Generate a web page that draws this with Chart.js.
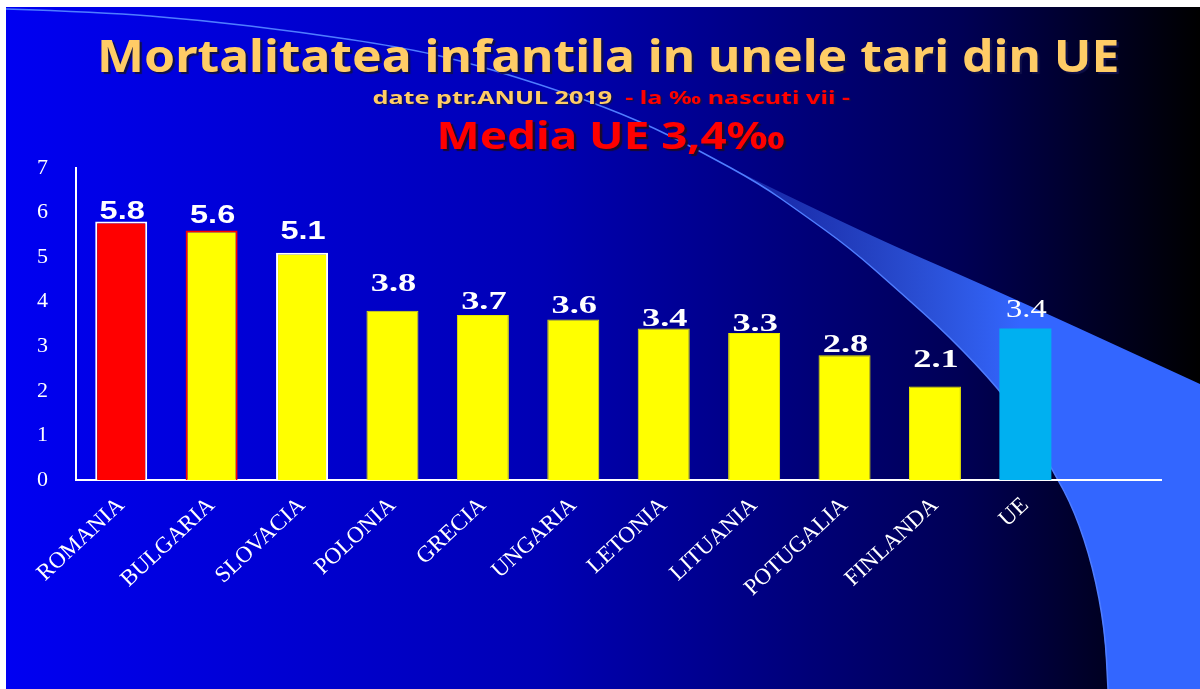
<!DOCTYPE html>
<html>
<head>
<meta charset="utf-8">
<title>Mortalitatea infantila in unele tari din UE</title>
<script src="https://cdn.jsdelivr.net/npm/chart.js@4.4.1/dist/chart.umd.min.js"></script>
<style>
    html, body { margin: 0; padding: 0; background: #fff; }
    #wrap { position: relative; width: 1200px; height: 689px; overflow: hidden; }
    #chart { position: absolute; left: 0; top: 0; }
    .line {
        position: absolute;
        width: 1200px;
        text-align: center;
        white-space: nowrap;
        font-family: "Noto Sans", "Open Sans", sans-serif;
        font-weight: bold;
        line-height: 1;
    }
    .fit { display: inline-block; transform-origin: 50% 50%; }
    .title { left: 8px; top: 32px; font-size: 45px; color: #ffcc66; text-shadow: 2px 2px 1px #10104a; }
    .sub { left: 11px; top: 89px; font-size: 17px; color: #ffcc66; text-shadow: 1px 1px 1px #10104a; }
    .sub .red { color: #ff0000; }
    .media { left: 11px; top: 116px; font-size: 37px; color: #ff0000; text-shadow: 2px 2px 1px #1a0a2a; }
</style>
</head>
<body>
<div id="wrap">
    <canvas id="chart" width="1200" height="689"></canvas>
    <div class="line title"><span class="fit" data-w="1023">Mortalitatea infantila in unele tari din UE</span></div>
    <div class="line sub"><span class="fit" data-w="478">date ptr.ANUL 2019 <span class="red">&nbsp;- la ‰ nascuti vii -</span></span></div>
    <div class="line media"><span class="fit" data-w="349">Media UE 3,4‰</span></div>
</div>

<script>
// Chart data
const countries = ['ROMANIA', 'BULGARIA', 'SLOVACIA', 'POLONIA', 'GRECIA', 'UNGARIA',
    'LETONIA', 'LITUANIA', 'POTUGALIA', 'FINLANDA', 'UE', ''];
const mortality = [5.8, 5.6, 5.1, 3.8, 3.7, 3.6, 3.4, 3.3, 2.8, 2.1, 3.4, null];
const yTicks = [0, 1, 2, 3, 4, 5, 6, 7];

// Bar styles
const barColors = ['#ff0000', '#ffff00', '#ffff00', '#ffff00', '#ffff00', '#ffff00',
    '#ffff00', '#ffff00', '#ffff00', '#ffff00', '#00b0f0', '#ffff00'];
const barBorders = ['#ffffff', '#ff0000', '#ffffff', '#e8e800', '#e8e800', '#e8e800',
    '#e8e800', '#e8e800', '#e8e800', '#e8e800', '#00b0f0', '#ffff00'];
const barBorderWidths = [2, 2, 2, 1, 1, 1, 1, 1, 1, 1, 0, 0];

// Value label styles (gap above bar top, font, horizontal stretch)
const labelGaps = [2, 7, 14, 20, 6, 7, 2, 2, 3, 19, 11];
const SANS_B = 'bold 25px "Liberation Sans", Arial, sans-serif';
const SERIF_B = 'bold 26px "Liberation Serif", "Times New Roman", serif';
const SERIF = '25px "Liberation Serif", "Times New Roman", serif';
const labelFonts = [SANS_B, SANS_B, SANS_B, SERIF_B, SERIF_B, SERIF_B,
    SERIF_B, SERIF_B, SERIF_B, SERIF_B, SERIF];
const labelStretch = [1.3, 1.3, 1.3, 1.4, 1.4, 1.4, 1.4, 1.4, 1.4, 1.4, 1.3];

// smooth path through a list of points
function smoothThrough(ctx, pts) {
    for (let i = 1; i < pts.length - 1; i++) {
        const mx = (pts[i][0] + pts[i + 1][0]) / 2;
        const my = (pts[i][1] + pts[i + 1][1]) / 2;
        ctx.quadraticCurveTo(pts[i][0], pts[i][1], mx, my);
    }
    const last = pts[pts.length - 1];
    ctx.lineTo(last[0], last[1]);
}

// Slide background: gradient, thin arc and blue swoosh
const slideBackground = {
    id: 'slideBackground',
    beforeDraw(chart) {
        const ctx = chart.ctx;
        ctx.save();
        ctx.fillStyle = '#ffffff';
        ctx.fillRect(0, 0, 1200, 689);

        const g = ctx.createLinearGradient(6, 0, 1200, 0);
        g.addColorStop(0, '#0000f2');
        g.addColorStop(0.45, '#0000b4');
        g.addColorStop(0.8, '#000055');
        g.addColorStop(1, '#000000');
        ctx.fillStyle = g;
        ctx.fillRect(6, 7, 1194, 682);

        // swoosh band
        const sg = ctx.createLinearGradient(720, 0, 1020, 0);
        sg.addColorStop(0, 'rgba(60,100,230,0.3)');
        sg.addColorStop(1, '#3366ff');
        ctx.fillStyle = sg;
        ctx.beginPath();
        ctx.moveTo(715, 160);
        smoothThrough(ctx, [[715, 160], [850, 227], [1000, 292], [1200, 384]]);
        ctx.lineTo(1200, 689);
        ctx.lineTo(1108, 689);
        smoothThrough(ctx, [[1108, 689], [1105, 630], [1093, 567], [1075, 512], [1053, 470],
            [1028, 430], [1000, 390], [950, 337], [900, 292], [850, 248], [800, 212],
            [760, 184], [715, 160]]);
        ctx.closePath();
        ctx.fill();

        // thin arc line
        ctx.strokeStyle = '#4f7dff';
        ctx.lineWidth = 1.5;
        ctx.beginPath();
        const arc = [[6, 9], [100, 12], [200, 20], [300, 32], [400, 47], [467, 62],
            [567, 93], [640, 121], [700, 151], [760, 184], [800, 212], [850, 248],
            [900, 292], [950, 337], [1000, 390], [1028, 430], [1053, 470], [1075, 512],
            [1093, 567], [1105, 630], [1108, 689]];
        ctx.moveTo(arc[0][0], arc[0][1]);
        smoothThrough(ctx, arc);
        ctx.stroke();
        ctx.restore();
    }
};

// Value labels above bars
const valueLabels = {
    id: 'valueLabels',
    afterDatasetsDraw(chart) {
        const ctx = chart.ctx;
        const meta = chart.getDatasetMeta(0);
        meta.data.forEach((bar, i) => {
            const v = mortality[i];
            if (v == null) return;
            ctx.save();
            ctx.font = labelFonts[i];
            ctx.fillStyle = '#ffffff';
            ctx.textAlign = 'center';
            ctx.textBaseline = 'alphabetic';
            ctx.translate(bar.x + 1, bar.y - labelGaps[i]);
            ctx.scale(labelStretch[i], 1);
            ctx.fillText(v.toFixed(1), 0, 0);
            ctx.restore();
        });
    }
};

const ctx = document.getElementById('chart').getContext('2d');
new Chart(ctx, {
    type: 'bar',
    data: {
        labels: countries,
        datasets: [{
            data: mortality,
            backgroundColor: barColors,
            borderColor: barBorders,
            borderWidth: barBorderWidths,
            borderSkipped: 'bottom',
            barPercentage: 0.575,
            categoryPercentage: 1
        }]
    },
    options: {
        responsive: false,
        animation: false,
        layout: {
            padding: { top: 168, right: 39, bottom: 0, left: 0 }
        },
        plugins: {
            legend: { display: false },
            title: { display: false },
            tooltip: { enabled: false }
        },
        scales: {
            y: {
                min: 0,
                max: 7,
                afterBuildTicks: scale => {
                    scale.ticks = yTicks.map(v => ({ value: v }));
                },
                afterFit: scale => { scale.width = 76; },
                ticks: {
                    color: '#ffffff',
                    padding: 28,
                    font: { family: '"Liberation Serif", "Times New Roman", serif', size: 22 }
                },
                grid: { display: false, drawTicks: false },
                border: { display: true, color: '#ffffff', width: 2 }
            },
            x: {
                afterFit: scale => { scale.height = 209; },
                ticks: {
                    color: '#ffffff',
                    minRotation: 43,
                    maxRotation: 43,
                    padding: 12,
                    autoSkip: false,
                    font: { family: '"Liberation Serif", "Times New Roman", serif', size: 23 }
                },
                grid: { display: false, drawTicks: false },
                border: { display: true, color: '#ffffff', width: 2 }
            }
        }
    },
    plugins: [slideBackground, valueLabels]
});

// Stretch the heading lines to the slide widths
function fitHeadings() {
    document.querySelectorAll('.fit').forEach(el => {
        const target = parseFloat(el.dataset.w);
        if (!target) return;
        el.style.transform = 'none';
        const w = el.offsetWidth;
        if (w > 0) el.style.transform = 'scaleX(' + (target / w) + ')';
    });
}
fitHeadings();
if (document.fonts && document.fonts.ready) document.fonts.ready.then(fitHeadings);
</script>
</body>
</html>
